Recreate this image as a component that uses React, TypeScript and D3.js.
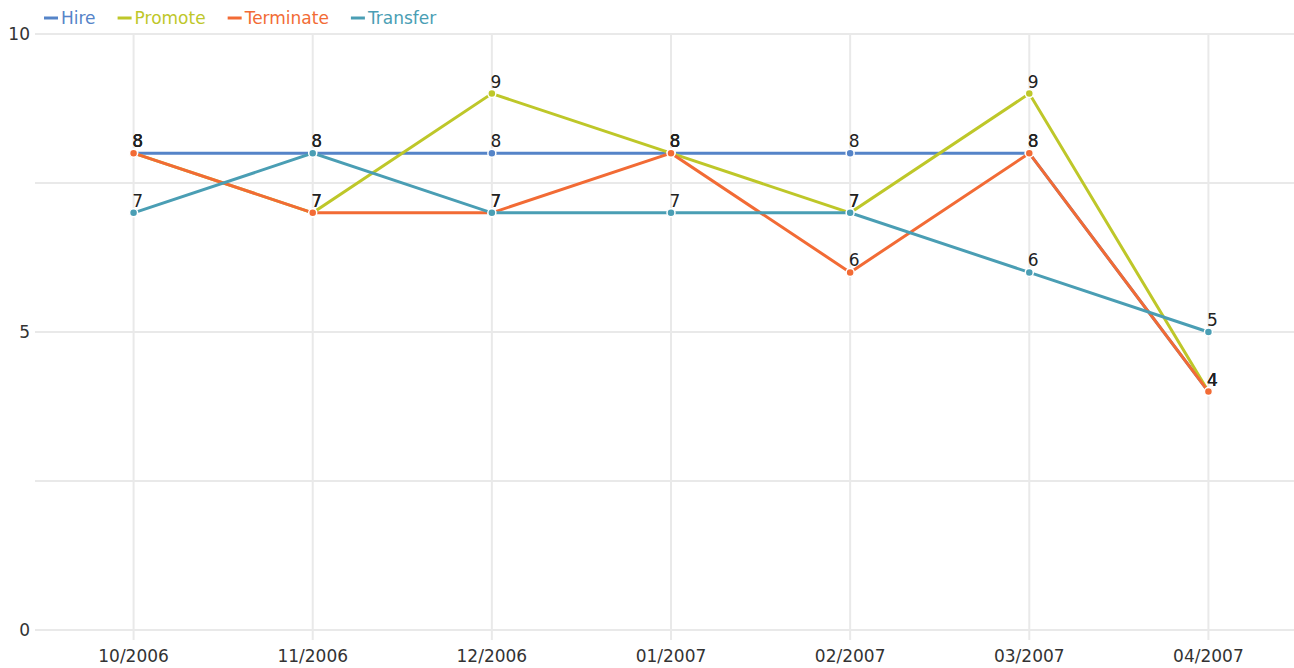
import React, { useEffect, useRef } from "react";
import * as d3 from "d3";

const months = ["10/2006", "11/2006", "12/2006", "01/2007", "02/2007", "03/2007", "04/2007"];
const hire = [8, 8, 8, 8, 8, 8, 4];
const promote = [8, 7, 9, 8, 7, 9, 4];
const terminate = [8, 7, 7, 8, 6, 8, 4];
const transfer = [7, 8, 7, 7, 7, 6, 5];
const yTicks = [0, 5, 10];
const yGrid = [0, 2.5, 5, 7.5, 10];

const seriesList = [
  { name: "Hire", values: hire, color: "#5584c8" },
  { name: "Promote", values: promote, color: "#bec729" },
  { name: "Terminate", values: terminate, color: "#f26b35" },
  { name: "Transfer", values: transfer, color: "#4a9eb4" },
];

const App = () => {
  const ref = useRef<SVGSVGElement>(null);

  useEffect(() => {
    const width = 1294;
    const font = "'DejaVu Sans', Verdana, sans-serif";

    const svg = d3.select(ref.current);
    svg.selectAll("*").remove();

    const x = d3.scalePoint<string>().domain(months).range([44, 1298]).padding(0.5);
    const y = d3.scaleLinear().domain([0, 10]).range([630, 34]);

    // grid
    svg.append("g")
      .selectAll("line")
      .data(yGrid)
      .join("line")
      .attr("x1", 35)
      .attr("x2", width)
      .attr("y1", (d) => y(d))
      .attr("y2", (d) => y(d))
      .attr("stroke", "#e9e9e9")
      .attr("stroke-width", 2);

    svg.append("g")
      .selectAll("line")
      .data(months)
      .join("line")
      .attr("x1", (d) => x(d)!)
      .attr("x2", (d) => x(d)!)
      .attr("y1", 34)
      .attr("y2", 640)
      .attr("stroke", "#e9e9e9")
      .attr("stroke-width", 2);

    // y labels
    svg.append("g")
      .selectAll("text")
      .data(yTicks)
      .join("text")
      .attr("x", 30)
      .attr("y", (d) => y(d))
      .attr("dy", "0.35em")
      .attr("text-anchor", "end")
      .attr("font-family", font)
      .attr("font-size", 17)
      .attr("fill", "#333")
      .text((d) => d);

    // x labels
    svg.append("g")
      .selectAll("text")
      .data(months)
      .join("text")
      .attr("x", (d) => x(d)!)
      .attr("y", 662)
      .attr("text-anchor", "middle")
      .attr("font-family", font)
      .attr("font-size", 17)
      .attr("fill", "#333")
      .text((d) => d);

    const line = d3.line<number>()
      .x((_, i) => x(months[i])!)
      .y((d) => y(d));

    seriesList.forEach((s) => {
      const g = svg.append("g");
      g.append("path")
        .attr("d", line(s.values))
        .attr("fill", "none")
        .attr("stroke", s.color)
        .attr("stroke-width", 3);
      g.selectAll("circle")
        .data(s.values)
        .join("circle")
        .attr("cx", (_, i) => x(months[i])!)
        .attr("cy", (d) => y(d))
        .attr("r", 4)
        .attr("fill", s.color)
        .attr("stroke", "#fff")
        .attr("stroke-width", 1.5);
    });

    seriesList.forEach((s) => {
      svg.append("g")
        .selectAll("text")
        .data(s.values)
        .join("text")
        .attr("x", (_, i) => x(months[i])! + 4)
        .attr("y", (d) => y(d) - 6)
        .attr("text-anchor", "middle")
        .attr("font-family", font)
        .attr("font-size", 17)
        .attr("fill", "#222")
        .text((d) => d);
    });

    // legend, laid out from the measured text widths
    const legend = svg.append("g");
    let lx = 44;
    seriesList.forEach((s) => {
      legend.append("line")
        .attr("x1", lx)
        .attr("x2", lx + 14)
        .attr("y1", 18)
        .attr("y2", 18)
        .attr("stroke", s.color)
        .attr("stroke-width", 3);
      const t = legend.append("text")
        .attr("x", lx + 17)
        .attr("y", 24)
        .attr("font-family", font)
        .attr("font-size", 17)
        .attr("fill", s.color)
        .text(s.name);
      const w = (t.node() as SVGTextElement).getComputedTextLength();
      lx += 17 + w + 22;
    });
  }, []);

  return (
    <svg
      ref={ref}
      width={1294}
      height={668}
      style={{ position: "absolute", left: 0, top: 0, background: "#fff" }}
    />
  );
};

export default App;
